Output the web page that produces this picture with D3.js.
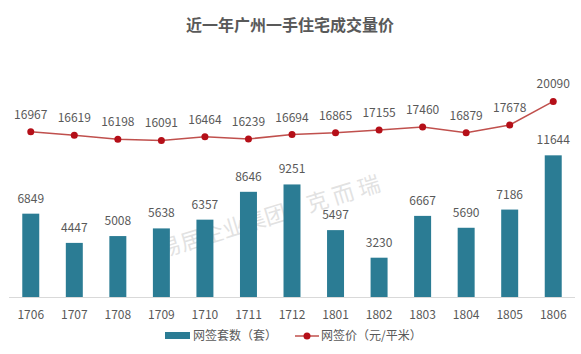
<!DOCTYPE html>
<html>
<head>
<meta charset="utf-8">
<script src="https://cdn.jsdelivr.net/npm/d3@7"></script>
<style>
  body { margin: 0; background: #fff; }
  svg { font-family: "Noto Sans CJK SC", "Noto Sans", sans-serif; }
</style>
</head>
<body>
<div id="chart"></div>
<script>
// Chart data
const months = ["1706", "1707", "1708", "1709", "1710", "1711", "1712", "1801", "1802", "1803", "1804", "1805", "1806"];
const units = [6849, 4447, 5008, 5638, 6357, 8646, 9251, 5497, 3230, 6667, 5690, 7186, 11644];
const prices = [16967, 16619, 16198, 16091, 16464, 16239, 16694, 16865, 17155, 17460, 16879, 17678, 20090];

const width = 581;
const height = 354;
const baseline = 297;

const svg = d3.select("#chart")
    .append("svg")
    .attr("width", width)
    .attr("height", height);

// Scales
const x = d3.scaleBand()
    .domain(months)
    .range([9, 575])
    .paddingInner(0.61)
    .paddingOuter(0.305);

const yBar = d3.scaleLinear().domain([0, 24000]).range([baseline, 5]);
const yPrice = d3.scaleLinear().domain([0, 30000]).range([baseline, 5]);

const cx = d => x(d) + x.bandwidth() / 2;

// Title
svg.append("text")
    .attr("x", 290)
    .attr("y", 31)
    .attr("text-anchor", "middle")
    .attr("font-size", 16)
    .attr("font-weight", "bold")
    .attr("fill", "#595959")
    .text("近一年广州一手住宅成交量价");

// Watermark
svg.append("text")
    .attr("transform", "translate(272,224) rotate(-17)")
    .attr("text-anchor", "middle")
    .attr("font-size", 22)
    .attr("fill", "#bfbfbf")
    .attr("opacity", 0.45)
    .text("易居企业集团·克 而 瑞");

// Bars
svg.append("g")
    .selectAll("rect")
    .data(units)
    .enter()
    .append("rect")
    .attr("x", (d, i) => x(months[i]))
    .attr("y", d => yBar(d))
    .attr("width", x.bandwidth())
    .attr("height", d => baseline - yBar(d))
    .attr("fill", "#2b7c94");

// Bar labels
svg.append("g")
    .selectAll("text")
    .data(units)
    .enter()
    .append("text")
    .attr("x", (d, i) => cx(months[i]))
    .attr("y", d => yBar(d) - 11)
    .attr("text-anchor", "middle")
    .attr("font-size", 12)
    .attr("fill", "#595959")
    .text(d => d);

// X axis
const xAxis = svg.append("g")
    .attr("transform", `translate(0,${baseline})`)
    .call(d3.axisBottom(x).tickSize(0).tickPadding(13));
xAxis.select(".domain").attr("stroke", "#d9d9d9").attr("d", "M9,0.5H575");
xAxis.selectAll("text")
    .attr("font-size", 12)
    .attr("fill", "#595959")
    .attr("font-family", "'Noto Sans CJK SC', sans-serif");

// Price line
const line = d3.line()
    .x((d, i) => cx(months[i]))
    .y(d => yPrice(d));

svg.append("path")
    .datum(prices)
    .attr("d", line)
    .attr("fill", "none")
    .attr("stroke", "#c0504d")
    .attr("stroke-width", 1.5);

svg.append("g")
    .selectAll("circle")
    .data(prices)
    .enter()
    .append("circle")
    .attr("cx", (d, i) => cx(months[i]))
    .attr("cy", d => yPrice(d))
    .attr("r", 3.5)
    .attr("fill", "#b50f18");

// Price labels
svg.append("g")
    .selectAll("text")
    .data(prices)
    .enter()
    .append("text")
    .attr("x", (d, i) => cx(months[i]))
    .attr("y", d => yPrice(d) - 13)
    .attr("text-anchor", "middle")
    .attr("font-size", 12)
    .attr("fill", "#595959")
    .text(d => d);

// Legend
const legend = svg.append("g").attr("transform", "translate(0,336)");
legend.append("rect")
    .attr("x", 165).attr("y", -4)
    .attr("width", 25).attr("height", 7)
    .attr("fill", "#2b7c94");
legend.append("text")
    .attr("x", 193).attr("y", 4)
    .attr("font-size", 12)
    .attr("fill", "#595959")
    .text("网签套数（套）");
legend.append("line")
    .attr("x1", 295).attr("x2", 319)
    .attr("y1", 0).attr("y2", 0)
    .attr("stroke", "#c0504d")
    .attr("stroke-width", 1.5);
legend.append("circle")
    .attr("cx", 307).attr("cy", 0)
    .attr("r", 3.5)
    .attr("fill", "#b50f18");
legend.append("text")
    .attr("x", 321).attr("y", 4)
    .attr("font-size", 12)
    .attr("fill", "#595959")
    .text("网签价（元/平米）");
</script>
</body>
</html>
